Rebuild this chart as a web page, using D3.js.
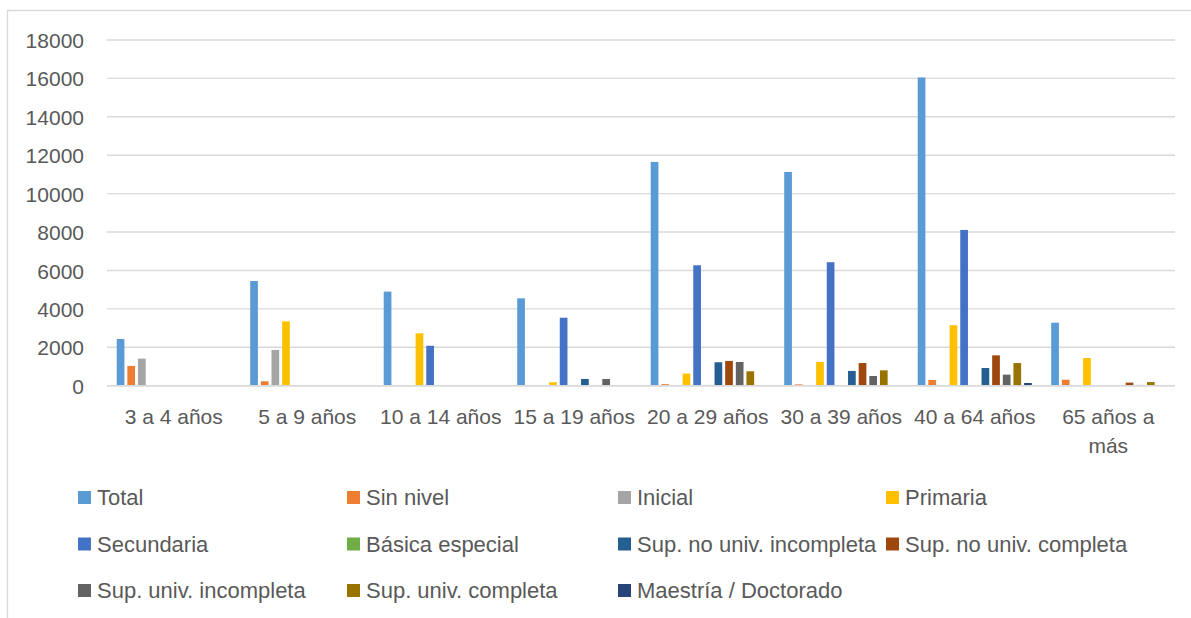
<!DOCTYPE html>
<html>
<head>
<meta charset="utf-8">
<script src="https://cdn.jsdelivr.net/npm/d3@7"></script>
<style>
  html, body { margin: 0; padding: 0; background: #fff; }
  svg { display: block; }
  text { font-family: "Liberation Sans", Arial, sans-serif; fill: #595959; }
</style>
</head>
<body>
<svg id="chart" width="1191" height="618"></svg>
<script>
// ---- data ----
const categories = ["3 a 4 años", "5 a 9 años", "10 a 14 años", "15 a 19 años", "20 a 29 años", "30 a 39 años", "40 a 64 años", "65 años a más"];
const seriesNames = ["Total", "Sin nivel", "Inicial", "Primaria", "Secundaria", "Básica especial", "Sup. no univ. incompleta", "Sup. no univ. completa", "Sup. univ. incompleta", "Sup. univ. completa", "Maestría / Doctorado"];
const total          = [2430, 5450, 4900, 4550, 11650, 11130, 16050, 3280];
const sinNivel       = [1030, 230, 0, 0, 80, 70, 300, 310];
const inicial        = [1410, 1860, 0, 0, 0, 0, 0, 0];
const primaria       = [0, 3350, 2730, 180, 630, 1240, 3150, 1440];
const secundaria     = [0, 0, 2080, 3540, 6270, 6430, 8110, 0];
const basicaEspecial = [0, 0, 0, 0, 40, 0, 0, 0];
const supNoUnivInc   = [0, 0, 0, 350, 1220, 770, 920, 20];
const supNoUnivComp  = [0, 0, 0, 0, 1290, 1180, 1580, 160];
const supUnivInc     = [0, 0, 0, 350, 1235, 505, 575, 40];
const supUnivComp    = [0, 0, 0, 0, 750, 800, 1180, 190];
const maestria       = [0, 0, 0, 0, 0, 30, 140, 0];
const yTicks = [0, 2000, 4000, 6000, 8000, 10000, 12000, 14000, 16000, 18000];
const colors = ["#5B9BD5", "#ED7D31", "#A5A5A5", "#FFC000", "#4472C4", "#70AD47", "#255E91", "#9E480E", "#636363", "#997300", "#264478"];

const seriesValues = [total, sinNivel, inicial, primaria, secundaria, basicaEspecial, supNoUnivInc, supNoUnivComp, supUnivInc, supUnivComp, maestria];

// ---- layout ----
const svg = d3.select("#chart");
const plotLeft = 107, plotRight = 1175, plotTop = 40, plotBottom = 385.7;

// outer chart border
svg.append("path")
  .attr("d", `M7.5,618 L7.5,10.5 L1191,10.5`)
  .attr("fill", "none").attr("stroke", "#d9d9d9").attr("stroke-width", 1.3);

const x0 = d3.scaleBand().domain(categories).range([plotLeft, plotRight]).paddingInner(0).paddingOuter(0);
const x1 = d3.scaleBand().domain(seriesNames).range([0, x0.bandwidth()]).paddingInner(0).paddingOuter(0.775);
const y = d3.scaleLinear().domain([0, 18000]).range([plotBottom, plotTop]);

// gridlines
svg.append("g").selectAll("line").data(yTicks).join("line")
  .attr("x1", plotLeft).attr("x2", plotRight)
  .attr("y1", d => y(d)).attr("y2", d => y(d))
  .attr("stroke", "#d9d9d9").attr("stroke-width", 1.4);

// y axis labels
const yAxis = d3.axisLeft(y).tickValues(yTicks).tickSize(0).tickPadding(0).tickFormat(d3.format("d"));
const gy = svg.append("g").attr("transform", `translate(84,0)`).call(yAxis);
gy.select(".domain").remove();
gy.selectAll("text").attr("font-size", 21).attr("fill", "#595959")
  .attr("font-family", "Liberation Sans, Arial, sans-serif").attr("dy", "0.36em").attr("x", 0);

// bars
const barW = 7.7;
const groups = svg.append("g").selectAll("g").data(categories).join("g")
  .attr("transform", d => `translate(${x0(d)},0)`);
groups.selectAll("rect")
  .data((c, ci) => seriesNames.map((s, si) => ({ s, si, v: seriesValues[si][ci] })).filter(d => d.v > 0))
  .join("rect")
  .attr("x", d => x1(d.s) + (x1.bandwidth() - barW) / 2)
  .attr("width", barW)
  .attr("y", d => y(d.v))
  .attr("height", d => Math.max(0, plotBottom - y(d.v)))
  .attr("fill", d => colors[d.si]);

// baseline on top
svg.append("line").attr("x1", plotLeft).attr("x2", plotRight)
  .attr("y1", plotBottom).attr("y2", plotBottom)
  .attr("stroke", "#d9d9d9").attr("stroke-width", 1.6);

// category labels (wrapped)
const catLines = { "65 años a más": ["65 años a", "más"] };
const xg = svg.append("g");
categories.forEach(c => {
  const lines = catLines[c] || [c];
  const t = xg.append("text")
    .attr("x", x0(c) + x0.bandwidth() / 2)
    .attr("y", 424)
    .attr("text-anchor", "middle")
    .attr("font-size", 21);
  lines.forEach((l, i) => t.append("tspan").attr("x", x0(c) + x0.bandwidth() / 2).attr("dy", i === 0 ? 0 : 29).text(l));
});

// legend
const legCols = [78, 347, 618, 886];
const legRows = [497.5, 544, 590.5];
const leg = svg.append("g");
seriesNames.forEach((s, i) => {
  const cx = legCols[i % 4], cy = legRows[Math.floor(i / 4)];
  leg.append("rect").attr("x", cx).attr("y", cy - 6.5).attr("width", 13).attr("height", 13).attr("fill", colors[i]);
  leg.append("text").attr("x", cx + 19).attr("y", cy).attr("dy", "0.36em").attr("font-size", 22).text(s);
});
</script>
</body>
</html>
